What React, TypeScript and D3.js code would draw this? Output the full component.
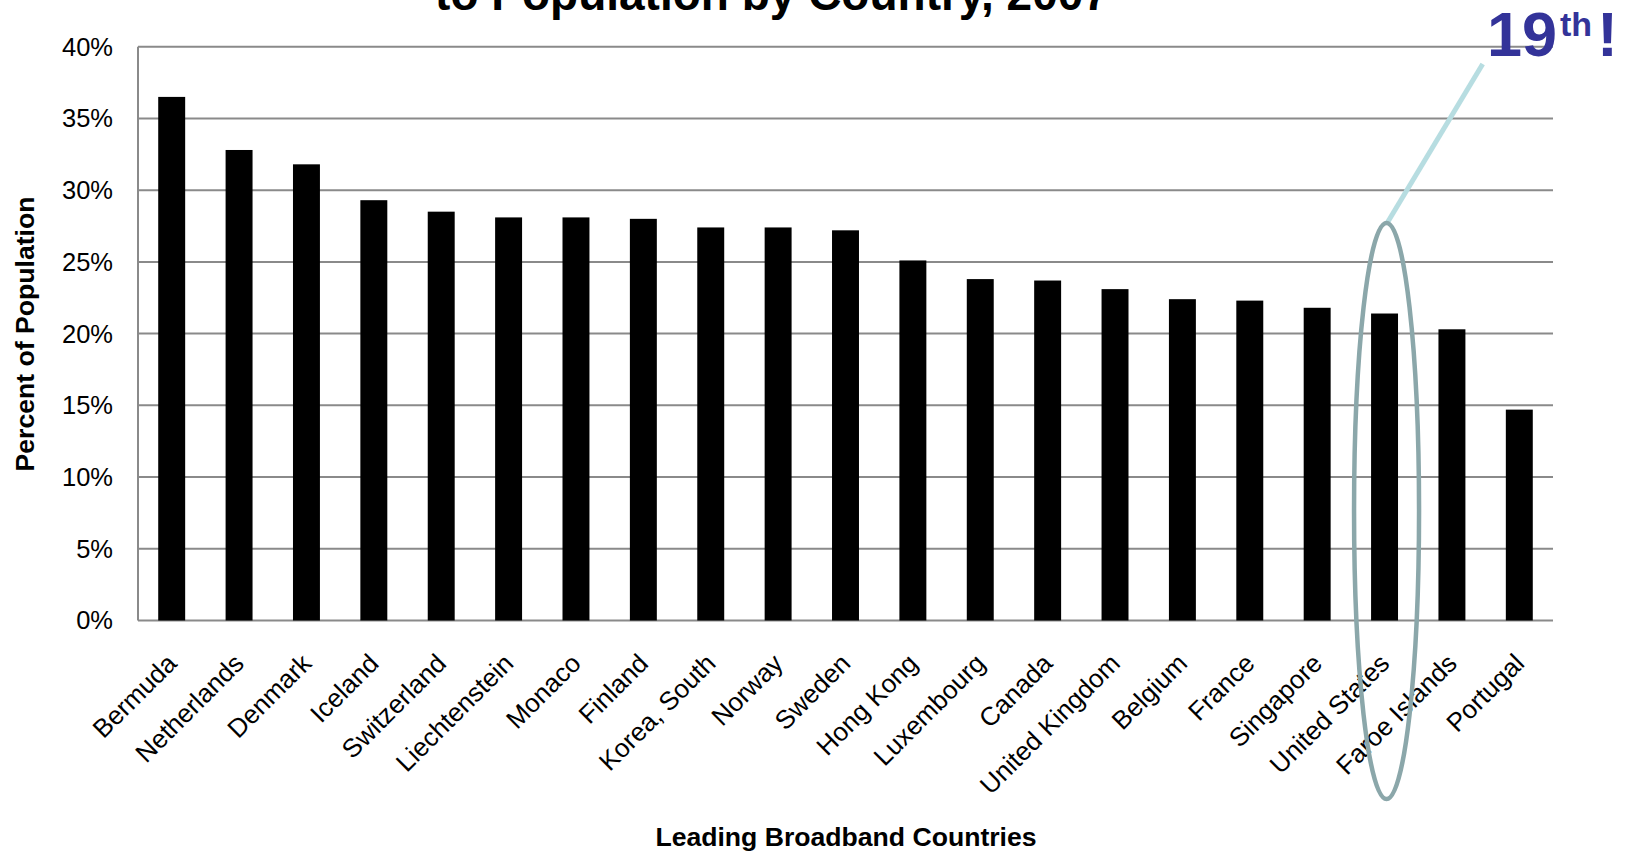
import React from "react";
import * as d3 from "d3";

const countries = [
  "Bermuda", "Netherlands", "Denmark", "Iceland", "Switzerland", "Liechtenstein",
  "Monaco", "Finland", "Korea, South", "Norway", "Sweden", "Hong Kong",
  "Luxembourg", "Canada", "United Kingdom", "Belgium", "France", "Singapore",
  "United States", "Faroe Islands", "Portugal",
];
const penetration = [
  36.5, 32.8, 31.8, 29.3, 28.5, 28.1, 28.1, 28.0, 27.4, 27.4, 27.2, 25.1,
  23.8, 23.7, 23.1, 22.4, 22.3, 21.8, 21.4, 20.3, 14.7,
];
const yTicks = [0, 5, 10, 15, 20, 25, 30, 35, 40];
const titleText = "to Population by Country, 2007";
const xTitle = "Leading Broadband Countries";
const yTitle = "Percent of Population";
const highlighted = "United States";

const W = 1627;
const H = 853;
const left = 138;
const right = 1553;
const top = 46.7;
const bottom = 620.5;

export default function App() {
  const x = d3.scaleBand<string>().domain(countries).range([left, right]).paddingInner(0.6).paddingOuter(0.3);
  const y = d3.scaleLinear().domain([0, 40]).range([bottom, top]);
  const font = "'Liberation Sans', Arial, sans-serif";
  const hx = (x(highlighted) as number) + x.bandwidth() / 2 + 2;

  return (
    <svg width={W} height={H} style={{ position: "absolute", left: 0, top: 0, display: "block", background: "#fff" }} fontFamily={font}>
      <text x={772} y={10} textAnchor="middle" fontSize={46} fontWeight="bold" fill="#000">{titleText}</text>

      {yTicks.map((t) => (
        <g key={t}>
          <line x1={left} x2={right} y1={y(t)} y2={y(t)} stroke="#8a8a8a" strokeWidth={2} />
          <text x={113} y={y(t)} dy="0.35em" textAnchor="end" fontSize={25.5} fill="#000">{t + "%"}</text>
        </g>
      ))}
      <line x1={left} x2={left} y1={top} y2={bottom} stroke="#8a8a8a" strokeWidth={2} />

      {countries.map((c, i) => (
        <rect key={c} x={x(c)} y={y(penetration[i])} width={x.bandwidth()} height={bottom - y(penetration[i])} fill="#000" />
      ))}

      {countries.map((c) => (
        <text key={c} transform={`translate(${(x(c) as number) + x.bandwidth() / 2},${bottom + 38}) rotate(-45)`} dy="0.35em" textAnchor="end" fontSize={26} fill="#000">{c}</text>
      ))}

      <text transform={`translate(34,334) rotate(-90)`} textAnchor="middle" fontSize={26.6} fontWeight="bold" fill="#000">{yTitle}</text>
      <text x={846} y={846} textAnchor="middle" fontSize={26.6} fontWeight="bold" fill="#000">{xTitle}</text>

      <line x1={1482.7} y1={64} x2={1387.3} y2={222.7} stroke="#b7dde1" strokeWidth={5} />
      <ellipse cx={hx} cy={511} rx={32.5} ry={288} fill="none" stroke="#8ba7aa" strokeWidth={4.5} />

      <text x={1487} y={56} fontSize={63} fontWeight="bold" fill="#333399">19</text>
      <text x={1560} y={36} fontSize={34} fontWeight="bold" fill="#333399">th</text>
      <text x={1597} y={56} fontSize={63} fontWeight="bold" fill="#333399">!</text>
    </svg>
  );
}
